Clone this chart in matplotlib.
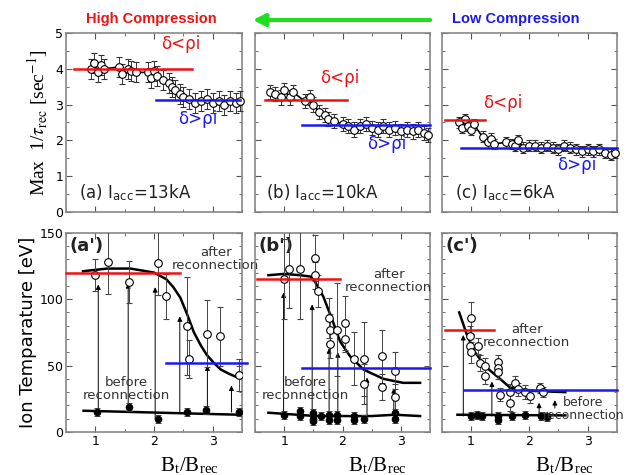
import matplotlib
matplotlib.use("Agg")
import matplotlib.pyplot as plt

# ---------------- data: top row (Max 1/tau_rec) ----------------
a_x = [0.92, 0.98, 1.05, 1.1, 1.15, 1.4, 1.45, 1.55, 1.6, 1.7, 1.9, 1.95, 2.0, 2.05, 2.15,
       2.25, 2.3, 2.35, 2.45, 2.5, 2.6, 2.7, 2.8, 2.9, 3.0, 3.1, 3.2, 3.3, 3.4, 3.47]
a_y = [4.0, 4.15, 3.9, 4.1, 4.0, 4.05, 3.85, 4.0, 3.95, 3.9, 3.9, 3.75, 3.95, 3.8, 3.7,
       3.6, 3.5, 3.4, 3.3, 3.2, 3.15, 3.05, 3.1, 3.15, 3.05, 3.1, 3.0, 3.1, 3.05, 3.1]
a_err = 0.28
b_x = [0.75, 0.85, 0.95, 1.0, 1.1, 1.15, 1.35, 1.45, 1.5, 1.6, 1.7, 1.75, 1.85, 2.0, 2.1,
       2.2, 2.3, 2.4, 2.5, 2.6, 2.7, 2.8, 2.9, 3.0, 3.1, 3.2, 3.3, 3.4, 3.47]
b_y = [3.35, 3.3, 3.2, 3.4, 3.2, 3.35, 3.1, 3.2, 3.0, 2.8, 2.7, 2.6, 2.55, 2.45, 2.4,
       2.3, 2.4, 2.45, 2.35, 2.3, 2.4, 2.3, 2.35, 2.25, 2.3, 2.25, 2.3, 2.2, 2.15]
b_err = 0.2
c_x = [0.8, 0.85, 0.9, 0.95, 1.0, 1.05, 1.2, 1.3, 1.35, 1.4, 1.6, 1.7, 1.75, 1.8, 1.9, 2.0,
       2.1, 2.2, 2.3, 2.4, 2.5, 2.6, 2.7, 2.8, 2.9, 3.0, 3.1, 3.2, 3.3, 3.4, 3.47]
c_y = [2.5, 2.35, 2.6, 2.4, 2.3, 2.45, 2.1, 1.95, 2.05, 1.9, 1.95, 1.9, 1.85, 2.0, 1.8, 1.85,
       1.85, 1.8, 1.85, 1.8, 1.75, 1.85, 1.8, 1.75, 1.7, 1.75, 1.7, 1.75, 1.65, 1.6, 1.65]
c_err = 0.15

top_red = [(0.63, 2.64, 4.0), (0.67, 2.08, 3.12), (0.56, 1.24, 2.58)]   # x0, x1, level
top_blue = [(2.04, 3.47, 3.12), (1.3, 3.5, 2.42), (0.83, 3.5, 1.8)]
top_red_lbl = [(2.45, 4.7), (1.96, 3.75), (1.55, 3.05)]
top_blue_lbl = [(2.75, 2.6), (2.75, 1.9), (2.82, 1.3)]
top_panel_lbl = [("(a)", "13kA"), ("(b)", "10kA"), ("(c)", "6kA")]

# ---------------- data: bottom row (Ion temperature) ----------------
ap_after_x = [1.0, 1.21, 1.57, 2.07, 2.2, 2.57, 2.6, 2.9, 3.13, 3.45]
ap_after_y = [118, 128, 113, 127, 102, 80, 55, 74, 72, 43]
ap_after_e = [12, 24, 16, 24, 17, 37, 14, 25, 22, 12]
ap_before_x = [1.03, 1.58, 2.07, 2.57, 2.88, 3.45]
ap_before_y = [15, 19, 10, 15, 16.5, 15]
ap_fit_x = [0.79, 1.2, 1.6, 2.0, 2.21, 2.33, 2.45, 2.57, 2.68, 2.8, 2.9, 3.02, 3.14, 3.27, 3.4]
ap_fit_y = [121, 123, 123, 120, 115, 109, 101, 88, 75, 65, 58, 52, 47, 44, 41.5]
ap_bfit_x = [0.8, 3.45]
ap_bfit_y = [16, 13]
ap_arrows = [(1.05, 15, 111), (1.56, 19, 112), (2.02, 10, 109), (2.44, 15, 87),
             (2.91, 16, 50), (3.32, 15, 35)]

bp_after_x = [0.99, 1.09, 1.27, 1.52, 1.52, 1.58, 1.77, 1.79, 1.79, 1.91, 2.04, 2.04,
              2.19, 2.36, 2.36, 2.67, 2.67, 2.9, 2.9]
bp_after_y = [115, 123, 123, 131, 118, 106, 86, 77, 66, 77, 82, 70, 55, 55, 36, 57, 34, 46, 26]
bp_after_e = [30, 30, 38, 17, 10, 12, 15, 12, 10, 35, 20, 10, 20, 28, 15, 20, 10, 14, 10]
bp_before_x = [0.99, 1.27, 1.27, 1.5, 1.5, 1.5, 1.63, 1.77, 1.77, 1.91, 1.91, 2.19, 2.19,
               2.36, 2.9, 2.9]
bp_before_y = [13, 16, 12, 14, 10, 8, 12, 13, 9, 13, 9, 12, 9, 10, 14, 10]
bp_fit_x = [0.73, 1.0, 1.27, 1.45, 1.53, 1.67, 1.82, 1.96, 2.13, 2.36, 2.7, 3.04, 3.33]
bp_fit_y = [118, 119, 118, 117, 113, 102, 85, 68, 57, 47, 40, 37, 37]
bp_bfit_x = [0.73, 1.55, 2.5, 2.9, 3.33]
bp_bfit_y = [14.5, 12, 12, 13, 12]
bp_arrows = [(0.99, 13, 105), (1.48, 14, 96), (1.77, 13, 63), (1.92, 13, 60),
             (2.42, 12, 41), (2.88, 14, 33)]

cp_after_x = [1.0, 0.99, 0.99, 1.0, 1.13, 1.15, 1.24, 1.24, 1.47, 1.47, 1.47, 1.5, 1.67,
              1.67, 1.76, 1.81, 1.93, 2.01, 2.19, 2.24]
cp_after_y = [86, 72, 65, 60, 65, 52, 50, 42, 53, 48, 45, 28, 30, 22, 37, 32, 30, 27, 33, 30]
cp_after_e = [12, 8, 6, 8, 6, 6, 6, 6, 5, 5, 5, 5, 6, 6, 5, 5, 5, 5, 4, 4]
cp_before_x = [1.0, 1.1, 1.19, 1.47, 1.47, 1.7, 1.93, 2.21, 2.3]
cp_before_y = [12, 13, 12, 12, 9, 12, 13, 12, 11]
cp_fit_x = [0.8, 0.93, 1.07, 1.27, 1.5, 1.67, 2.01, 2.62]
cp_fit_y = [90, 73.5, 60, 48.5, 40, 33.5, 31, 30]
cp_bfit_x = [0.77, 2.62]
cp_bfit_y = [13, 12.5]
cp_arrows = [(0.87, 12, 73), (1.36, 12, 38), (2.17, 13, 22), (2.44, 18, 24)]

bot_red = [(0.5, 2.45, 120), (0.53, 1.96, 115), (0.56, 1.39, 76.5)]
bot_blue = [(2.2, 3.58, 52), (1.3, 3.5, 48), (0.89, 3.5, 31.5)]
after_lbl = [(3.05, 130), (2.79, 114), (1.96, 72)]
before_lbl = [(1.53, 32), (1.36, 32), (2.93, 17)]
bot_panel_lbl = ["(a')", "(b')", "(c')"]

# ---------------- figure ----------------
W, H = 627, 475
fig = plt.figure(figsize=(W / 100, H / 100), dpi=100)
plt.rcParams['mathtext.fontset'] = 'stix'

cols = [(66, 242), (255, 430), (441.7, 616.7)]
top_rows = (33, 212)
bot_rows = (232.7, 432)

def mk_ax(c, r):
    l, rr = c
    t, b = r
    ax = fig.add_axes([l / W, 1 - b / H, (rr - l) / W, (b - t) / H])
    ax.set_facecolor('none')
    return ax

frame_col = '#888888'

def style(ax, top):
    ax.set_xlim(0.5, 3.5)
    ax.set_xticks([1, 2, 3])
    ax.set_xticks([0.5, 1.5, 2.5, 3.5], minor=True)
    if top:
        ax.set_ylim(0, 5)
        ax.set_yticks([0, 1, 2, 3, 4, 5])
        ax.set_yticks([0.5, 1.5, 2.5, 3.5, 4.5], minor=True)
    else:
        ax.set_ylim(0, 150)
        ax.set_yticks([0, 50, 100, 150])
        ax.set_yticks(range(10, 150, 10), minor=True)
    ax.tick_params(which='both', direction='in', top=True, right=True, color='#555555',
                   labelsize=9, pad=2)
    ax.tick_params(which='major', length=4)
    ax.tick_params(which='minor', length=2)
    for s in ax.spines.values():
        s.set_color(frame_col)
        s.set_linewidth(1.2)

tops = [(a_x, a_y, a_err), (b_x, b_y, b_err), (c_x, c_y, c_err)]
bots = [
    (ap_after_x, ap_after_y, ap_after_e, ap_before_x, ap_before_y, ap_fit_x, ap_fit_y,
     ap_bfit_x, ap_bfit_y, ap_arrows),
    (bp_after_x, bp_after_y, bp_after_e, bp_before_x, bp_before_y, bp_fit_x, bp_fit_y,
     bp_bfit_x, bp_bfit_y, bp_arrows),
    (cp_after_x, cp_after_y, cp_after_e, cp_before_x, cp_before_y, cp_fit_x, cp_fit_y,
     cp_bfit_x, cp_bfit_y, cp_arrows),
]

for i in range(3):
    # top panels
    ax = mk_ax(cols[i], top_rows)
    style(ax, True)
    x, y, e = tops[i]
    ax.plot(x, y, '-', color='k', lw=1.2, zorder=3)
    ax.errorbar(x, y, yerr=e, fmt='o', mfc='white', mec='k', mew=0.8, ms=5.5,
                ecolor='#333333', elinewidth=0.7, capsize=2.5, capthick=0.7, zorder=4,
                clip_on=False)
    x0, x1, lv = top_red[i]
    ax.plot([x0, x1], [lv, lv], color='#ee1111', lw=1.8, zorder=5)
    x0, x1, lv = top_blue[i]
    ax.plot([x0, x1], [lv, lv], color='#1a1aee', lw=1.8, zorder=5, clip_on=False)
    ax.text(*top_red_lbl[i], 'δ<ρi', color='#ee1111', fontsize=12, ha='center', va='center')
    ax.text(*top_blue_lbl[i], 'δ>ρi', color='#1a1aee', fontsize=12, ha='center', va='center')
    p, cur = top_panel_lbl[i]
    ax.text(0.72 if i != 1 else 0.68, 0.55, p + ' I$_{\\mathregular{acc}}$=' + cur,
            fontsize=12, ha='left', va='center', color='#222222')
    ax.set_xticklabels([])
    if i == 0:
        ax.set_ylabel(r'Max  1/$\tau_{\rm rec}$ [sec$^{-1}$]', fontsize=14,
                      family='Liberation Serif', labelpad=4)
    else:
        ax.set_yticklabels([])

    # bottom panels
    ax = mk_ax(cols[i], bot_rows)
    style(ax, False)
    (ax_, ay_, ae_, bx_, by_, fx_, fy_, bfx_, bfy_, arr) = bots[i]
    for (xx, y0, y1) in arr:
        ax.annotate('', xy=(xx, y1), xytext=(xx, y0),
                    arrowprops=dict(arrowstyle='-|>', lw=0.7, color='k',
                                    mutation_scale=7, shrinkA=0, shrinkB=0), zorder=2)
    ax.plot(fx_, fy_, '-', color='k', lw=1.8, zorder=3)
    ax.plot(bfx_, bfy_, '-', color='k', lw=1.8, zorder=3)
    ax.errorbar(ax_, ay_, yerr=ae_, fmt='o', mfc='white', mec='k', mew=0.8, ms=5.5,
                ecolor='#444444', elinewidth=0.7, capsize=2.5, capthick=0.7, zorder=4)
    ax.errorbar(bx_, by_, yerr=3, fmt='o', mfc='k', mec='k', ms=4.5,
                ecolor='#444444', elinewidth=0.7, capsize=2, capthick=0.7, zorder=4)
    x0, x1, lv = bot_red[i]
    ax.plot([x0, x1], [lv, lv], color='#ee1111', lw=1.8, zorder=5, clip_on=False)
    x0, x1, lv = bot_blue[i]
    ax.plot([x0, x1], [lv, lv], color='#1a1aee', lw=1.8, zorder=5, clip_on=False)
    ax.text(*after_lbl[i], 'after\nreconnection', fontsize=9.5, ha='center', va='center',
            linespacing=1.0, color='#333333', zorder=6)
    ax.text(*before_lbl[i], 'before\nreconnection', fontsize=9.5 if i < 2 else 9,
            ha='center', va='center', linespacing=1.0, color='#333333', zorder=6)
    ax.text(0.56, 140, bot_panel_lbl[i], fontsize=13, fontweight='bold', ha='left',
            va='center', color='#222222')
    if i == 0:
        ax.set_ylabel('Ion Temparature [eV]', fontsize=13, labelpad=2)
    else:
        ax.set_yticklabels([])
    # x label, offset to the right as in the reference
    fig.text((cols[i][0] + cols[i][1]) / 2 / W + 35 / W, 1 - 466 / H,
             r'B$_{\mathregular{t}}$/B$_{\mathregular{rec}}$', fontsize=15,
             family='Liberation Serif', ha='center', va='center')

# header
fig.text(151 / W, 1 - 19 / H, 'High Compression', color='#ee1111', fontsize=10.5,
         fontweight='bold', family='Liberation Sans', ha='center', va='center')
fig.text(516 / W, 1 - 19 / H, 'Low Compression', color='#1a1aee', fontsize=10.5,
         fontweight='bold', family='Liberation Sans', ha='center', va='center')
fig.patches.append(matplotlib.patches.FancyArrowPatch(
    (433 / W, 1 - 20 / H), (250 / W, 1 - 20 / H), transform=fig.transFigure,
    arrowstyle='-|>', mutation_scale=18, lw=3, color='#22dd22'))

fig.savefig('out.png', dpi=100)
